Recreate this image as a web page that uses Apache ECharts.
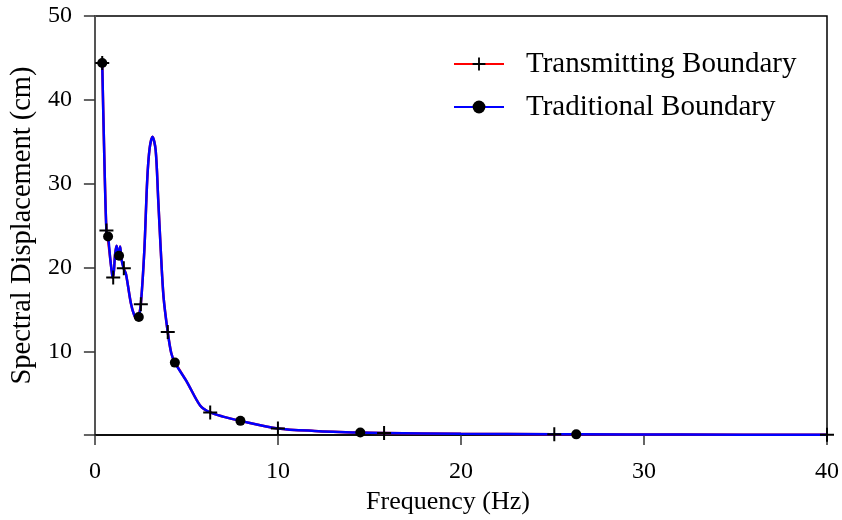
<!DOCTYPE html>
<html>
<head>
<meta charset="utf-8">
<title>Spectral Displacement</title>
<script src="https://cdn.jsdelivr.net/npm/echarts@6/dist/echarts.min.js"></script>
<style>
    html, body { margin: 0; padding: 0; background: #fff; }
    #main { width: 842px; height: 520px; }
</style>
</head>
<body>
<div id="main"></div>
<script>
/*数据：频率 (Hz) 与两种边界的谱位移 (cm)*/
var freq = [0.40, 0.50, 0.63, 0.72, 0.85, 0.96, 1.00, 1.10, 1.18, 1.25, 1.32, 1.38, 1.45, 1.58, 1.70,
    1.96, 2.15, 2.32, 2.40, 2.51, 2.70, 2.86, 2.99, 3.15, 3.32, 3.46, 3.60, 3.75, 3.98, 4.17, 4.37,
    5.04, 5.76, 6.30, 7.00, 7.95, 10.0, 12.0, 14.5, 15.8, 20.0, 25.1, 26.3, 32.0, 40.0];
var transmitting = [44.4, 34.5, 24.4, 23.2, 20.8, 18.9, 18.8, 21.5, 22.6, 21.9, 21.8, 22.5, 21.0, 19.9, 19.2,
    15.8, 14.3, 13.8, 14.3, 15.6, 22.0, 30.5, 34.2, 35.6, 34.0, 28.1, 22.0, 16.5, 12.3, 9.8, 8.7,
    6.3, 3.5, 2.7, 2.2, 1.7, 0.8, 0.5, 0.3, 0.25, 0.15, 0.1, 0.09, 0.06, 0.03];
var traditional = [44.4, 34.5, 24.3, 23.7, 20.8, 18.9, 18.8, 21.5, 22.6, 21.9, 21.4, 22.5, 21.0, 19.8, 19.2,
    15.8, 14.3, 13.8, 14.1, 15.6, 22.0, 30.5, 34.2, 35.6, 34.0, 28.1, 22.0, 16.5, 12.3, 9.8, 8.65,
    6.3, 3.5, 2.7, 2.2, 1.7, 0.8, 0.5, 0.3, 0.25, 0.15, 0.1, 0.09, 0.06, 0.03];
/*带标记的频率点*/
var transMarks = [0.40, 0.63, 1.00, 1.58, 2.51, 3.98, 6.30, 10.0, 15.8, 25.1, 40.0];
var tradMarks = [0.40, 0.72, 1.32, 2.40, 4.37, 7.95, 14.5, 26.3];
var seriesNames = ['Transmitting Boundary', 'Traditional Boundary'];

var serif = 'Liberation Serif';
var plusPath = 'path://M0,6H14V8H0Z M6,0H8V14H6Z';

// 只在标记点显示符号
function buildData(values, marks) {
    return freq.map(function (f, i) {
        var item = { value: [f, values[i]] };
        if (marks.indexOf(f) < 0) {
            item.symbol = 'none';
        }
        return item;
    });
}

var chart = echarts.init(document.getElementById('main'));
var option = {
    animation: false,
    grid: {
        left: 94,
        right: 14,
        top: 16,
        bottom: 84,
        show: true,
        borderColor: '#000',
        borderWidth: 1.5
    },
    legend: {
        orient: 'vertical',
        left: 448,
        top: 44,
        itemWidth: 50,
        itemHeight: 16,
        itemGap: 13,
        data: seriesNames,
        textStyle: {
            fontFamily: serif,
            fontSize: 29,
            lineHeight: 30,
            color: '#000',
            padding: [0, 0, 0, 17]
        }
    },
    xAxis: {
        type: 'value',
        min: 0,
        max: 40,
        interval: 10,
        name: 'Frequency (Hz)',
        nameLocation: 'middle',
        nameGap: 48,
        nameTextStyle: { fontFamily: serif, fontSize: 26, color: '#000', padding: [0, 26, 0, 0] },
        splitLine: { show: false },
        axisLine: { lineStyle: { color: '#000', width: 1.5 } },
        axisTick: { length: 10, lineStyle: { color: '#333', width: 1.5 } },
        axisLabel: { fontFamily: serif, fontSize: 24, color: '#000', margin: 25 }
    },
    yAxis: {
        type: 'value',
        min: 0,
        max: 50,
        interval: 10,
        name: 'Spectral Displacement (cm)',
        nameLocation: 'middle',
        nameGap: 56,
        nameTextStyle: { fontFamily: serif, fontSize: 28.5, color: '#000' },
        splitLine: { show: false },
        axisLine: { lineStyle: { color: '#555', width: 2 } },
        axisTick: { length: 11, lineStyle: { color: '#333', width: 1.5 } },
        axisLabel: {
            fontFamily: serif, fontSize: 24, color: '#000', margin: 23,
            formatter: function (v) { return v === 0 ? '' : v; }
        }
    },
    series: [
        {
            name: seriesNames[0],
            type: 'line',
            smooth: 0.3,
            symbol: plusPath,
            symbolSize: 14,
            itemStyle: { color: '#000' },
            lineStyle: { color: '#ff0000', width: 2.5 },
            data: buildData(transmitting, transMarks)
        },
        {
            name: seriesNames[1],
            type: 'line',
            smooth: 0.3,
            symbol: 'circle',
            symbolSize: 10,
            itemStyle: { color: '#000' },
            lineStyle: { color: '#0000ff', width: 2.5 },
            data: buildData(traditional, tradMarks)
        }
    ]
};
chart.setOption(option);
</script>
</body>
</html>
